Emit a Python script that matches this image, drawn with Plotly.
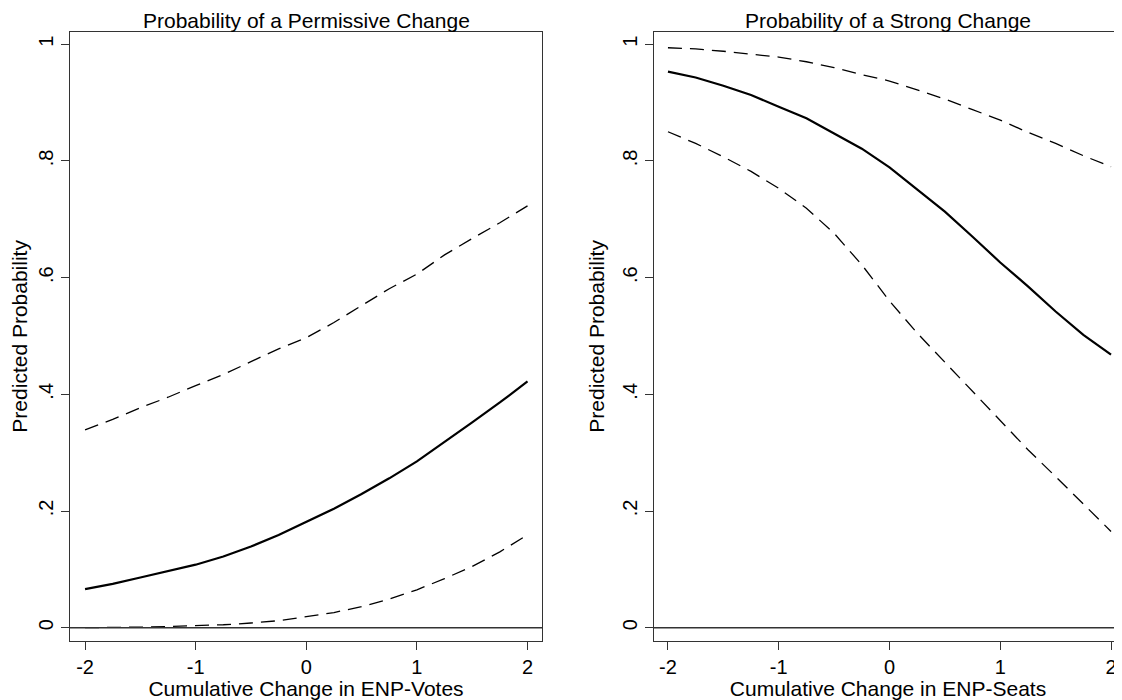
import plotly.graph_objects as go

# ---------------- data ----------------
x_vals = [-2, -1.75, -1.5, -1.25, -1, -0.75, -0.5, -0.25, 0, 0.25, 0.5, 0.75, 1, 1.25, 1.5, 1.75, 2]

# Left panel: Probability of a Permissive Change vs ENP-Votes
perm_mean  = [0.066, 0.075, 0.086, 0.097, 0.108, 0.122, 0.139, 0.159, 0.182, 0.204, 0.229, 0.256, 0.285, 0.318, 0.352, 0.386, 0.422]
perm_upper = [0.339, 0.357, 0.377, 0.395, 0.415, 0.434, 0.456, 0.478, 0.497, 0.523, 0.552, 0.581, 0.606, 0.639, 0.667, 0.694, 0.723]
perm_lower = [0.000, 0.000, 0.001, 0.002, 0.003, 0.005, 0.008, 0.012, 0.019, 0.026, 0.036, 0.049, 0.065, 0.084, 0.105, 0.130, 0.159]

# Right panel: Probability of a Strong Change vs ENP-Seats
strong_mean  = [0.953, 0.943, 0.929, 0.913, 0.893, 0.873, 0.847, 0.821, 0.789, 0.751, 0.713, 0.670, 0.626, 0.585, 0.542, 0.502, 0.468]
strong_upper = [0.994, 0.992, 0.988, 0.983, 0.978, 0.970, 0.960, 0.948, 0.937, 0.922, 0.906, 0.888, 0.870, 0.849, 0.830, 0.809, 0.790]
strong_lower = [0.850, 0.830, 0.807, 0.782, 0.753, 0.719, 0.676, 0.622, 0.560, 0.505, 0.455, 0.405, 0.354, 0.305, 0.259, 0.212, 0.165]

x_ticks = [-2, -1, 0, 1, 2]
x_ticklabels = ["-2", "-1", "0", "1", "2"]
y_ticks = [0, 0.2, 0.4, 0.6, 0.8, 1]
y_ticklabels = ["0", ".2", ".4", ".6", ".8", "1"]

titles = ["Probability of a Permissive Change", "Probability of a Strong Change"]
x_titles = ["Cumulative Change in ENP-Votes", "Cumulative Change in ENP-Seats"]
y_title = "Predicted Probability"

# ---------------- figure ----------------
# the page body has an 8px margin, so the figure is 8px smaller and
# all pixel positions below are page positions minus 8
OFF = 8
W, H = 1122 - OFF, 700 - OFF
FONT = "Liberation Sans, Arial, sans-serif"
FRAME = "#333333"

fig = go.Figure()

def add_panel(mean, upper, lower, xa, ya):
    fig.add_trace(go.Scatter(x=x_vals, y=upper, mode="lines", xaxis=xa, yaxis=ya,
                             line=dict(color="black", width=1.3, dash="14px,8px"), showlegend=False))
    fig.add_trace(go.Scatter(x=x_vals, y=mean, mode="lines", xaxis=xa, yaxis=ya,
                             line=dict(color="black", width=2.2), showlegend=False))
    fig.add_trace(go.Scatter(x=x_vals, y=lower, mode="lines", xaxis=xa, yaxis=ya,
                             line=dict(color="black", width=1.3, dash="14px,8px"), showlegend=False))

add_panel(perm_mean, perm_upper, perm_lower, "x", "y")
add_panel(strong_mean, strong_upper, strong_lower, "x2", "y2")

ydom = [1 - (640.7 - OFF) / H, 1 - (32 - OFF) / H]
xdom1 = [(70 - OFF) / W, (542 - OFF) / W]
xdom2 = [(654 - OFF) / W, 1.0]

common_x = dict(
    tickmode="array", tickvals=x_ticks, ticktext=x_ticklabels,
    ticks="outside", ticklen=8, tickwidth=1.3, tickcolor=FRAME,
    showgrid=False, zeroline=False, showline=True, linecolor=FRAME, linewidth=1.3,
    tickfont=dict(family=FONT, size=20, color="black"),
    title_font=dict(family=FONT, size=21, color="black"),
    title_standoff=0, fixedrange=True, automargin=False,
)
common_y = dict(
    tickmode="array", tickvals=y_ticks, ticktext=y_ticklabels, tickangle=-90,
    ticks="outside", ticklen=8, tickwidth=1.3, tickcolor=FRAME,
    showgrid=False, zeroline=False, showline=True, linecolor=FRAME, linewidth=1.3,
    tickfont=dict(family=FONT, size=20, color="black"),
    title_font=dict(family=FONT, size=21, color="black"),
    range=[-0.0223, 1.021], title_standoff=8, fixedrange=True, automargin=False,
)

fig.update_layout(
    width=W, height=H,
    margin=dict(l=0, r=0, t=0, b=0),
    paper_bgcolor="white", plot_bgcolor="white",
    xaxis=dict(common_x, domain=xdom1, range=[-2.136, 2.131], mirror=True, anchor="y",
               title_text=x_titles[0]),
    yaxis=dict(common_y, domain=ydom, mirror=True, anchor="x", title_text=y_title),
    xaxis2=dict(common_x, domain=xdom2, range=[-2.126, 2.099], mirror=True, anchor="y2",
                title_text=x_titles[1]),
    yaxis2=dict(common_y, domain=ydom, mirror=False, anchor="x2", title_text=y_title),
)

# horizontal reference line at y = 0
for xr, yr in (("x domain", "y"), ("x2 domain", "y2")):
    fig.add_shape(type="line", xref=xr, yref=yr, x0=0, x1=1, y0=0, y1=0,
                  line=dict(color=FRAME, width=1.6), layer="above")

# panel titles
for xr, t in (("x domain", titles[0]), ("x2 domain", titles[1])):
    fig.add_annotation(xref=xr, yref="paper", x=0.5, y=1.0, text=t, showarrow=False,
                       xanchor="center", yanchor="top", borderpad=0,
                       font=dict(family=FONT, size=21, color="black"))

fig.write_html("out.html")
